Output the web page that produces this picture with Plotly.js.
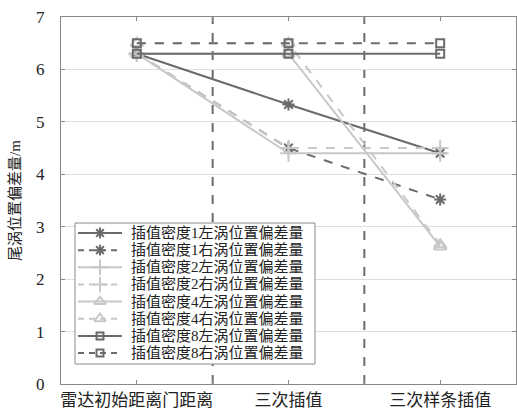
<!DOCTYPE html>
<html><head><meta charset="utf-8">
<script src="https://cdn.plot.ly/plotly-3.0.1.min.js"></script>
<style>body{margin:0;padding:0;background:#fff}#c{width:517px;height:412px}</style>
</head><body><div id="c"></div>
<script>
const xPos = [1, 2, 3];
const xTickVals = [1, 1.5, 2, 2.5, 3];
const xTickText = ['雷达初始距离门距离', '', '三次插值', '', '三次样条插值'];
const seriesNames = [
  '插值密度1左涡位置偏差量', '插值密度1右涡位置偏差量',
  '插值密度2左涡位置偏差量', '插值密度2右涡位置偏差量',
  '插值密度4左涡位置偏差量', '插值密度4右涡位置偏差量',
  '插值密度8左涡位置偏差量', '插值密度8右涡位置偏差量'
];
const d1L = [6.3, 5.33, 4.4];
const d1R = [6.3, 4.5, 3.52];
const d2L = [6.3, 4.4, 4.4];
const d2R = [6.3, 4.5, 4.5];
const d4L = [6.3, 6.3, 2.62];
const d4R = [6.5, 6.5, 2.66];
const d8L = [6.3, 6.3, 6.3];
const d8R = [6.5, 6.5, 6.5];
const dividers = [1.5, 2.5];

const dark = '#6b6b6b', light = '#c8c8c8';
const values = [d1L, d1R, d2L, d2R, d4L, d4R, d8L, d8R];
const colors = [dark, dark, light, light, light, light, dark, dark];
const dashes = ['solid', 'dash', 'solid', 'dash', 'solid', 'dash', 'solid', 'dash'];
const symbols = ['asterisk-open', 'asterisk-open', 'cross-thin-open', 'cross-thin-open',
  'triangle-up-open', 'triangle-up-open', 'square-open', 'square-open'];
const sizes = [10, 10, 12, 12, 11, 11, 8, 8];
const F = 'Liberation Serif, Noto Sans CJK SC, serif';

const traces = values.map((v, i) => ({
  x: xPos, y: v, name: seriesNames[i], type: 'scatter', mode: 'lines+markers',
  showlegend: false,
  line: {color: colors[i], width: 2, dash: dashes[i]},
  marker: {symbol: symbols[i], size: sizes[i], color: colors[i], line: {color: colors[i], width: 2}}
}));

// Hand-drawn legend on a pixel-unit overlay axis (plot area spans x 61..516, y 17..384)
const LG = {x0: 75, x1: 315, y0: 223, y1: 364, row0: 233, rowStep: 17.15, lineA: 78, lineB: 122, mid: 100, textX: 129};
traces.push({x: [LG.x0, LG.x1, LG.x1, LG.x0, LG.x0], y: [LG.y0, LG.y0, LG.y1, LG.y1, LG.y0],
  xaxis: 'x2', yaxis: 'y2', mode: 'lines', fill: 'toself', fillcolor: '#fff',
  line: {color: '#8a8a8a', width: 1}, showlegend: false, hoverinfo: 'skip'});
const annotations = [];
seriesNames.forEach((n, i) => {
  const ry = LG.row0 + i * LG.rowStep;
  traces.push({x: [LG.lineA, LG.mid, LG.lineB], y: [ry, ry, ry], xaxis: 'x2', yaxis: 'y2',
    mode: 'lines+markers', showlegend: false, hoverinfo: 'skip',
    line: {color: colors[i], width: 2, dash: dashes[i] === 'dash' ? '6px,5px' : 'solid'},
    marker: {symbol: symbols[i], size: sizes[i] - 1, color: colors[i], opacity: [0, 1, 0],
      line: {color: colors[i], width: 2}}});
  annotations.push({xref: 'x2', yref: 'y2', x: LG.textX, y: ry, text: n, showarrow: false,
    xanchor: 'left', yanchor: 'middle', font: {family: F, size: 15, color: '#222'}});
});

const layout = {
  width: 517, height: 412,
  margin: {l: 61, r: 1, t: 17, b: 28},
  paper_bgcolor: '#fff', plot_bgcolor: '#fff',
  font: {family: F, size: 15, color: '#222'},
  showlegend: false,
  xaxis: {range: [0.5, 3.5], tickmode: 'array', tickvals: xTickVals, ticktext: xTickText,
    ticks: 'inside', ticklen: 4, tickcolor: '#888', showline: true, linecolor: '#888',
    mirror: 'ticks', showgrid: false, zeroline: false, ticklabelstandoff: 1,
    tickfont: {family: F, size: 17, color: '#222'}},
  yaxis: {range: [0, 7], dtick: 1, ticks: 'inside', ticklen: 4, tickcolor: '#888',
    showline: true, linecolor: '#888', mirror: 'ticks', showgrid: true, gridcolor: '#dedede',
    zeroline: false, ticklabelstandoff: 12, tickfont: {family: F, size: 17, color: '#222'},
    title: {text: '尾涡位置偏差量/m', font: {family: F, size: 15, color: '#222'}, standoff: 11}},
  xaxis2: {overlaying: 'x', anchor: 'y2', range: [61, 516], visible: false, fixedrange: true},
  yaxis2: {overlaying: 'y', anchor: 'x2', range: [384, 17], visible: false, fixedrange: true},
  annotations: annotations,
  shapes: dividers.map(x => ({type: 'line', xref: 'x', yref: 'paper', x0: x, x1: x, y0: 0, y1: 1,
    line: {color: '#6b6b6b', width: 2, dash: 'dash'}, layer: 'below'}))
};
Plotly.newPlot('c', traces, layout, {staticPlot: true});
</script></body></html>
